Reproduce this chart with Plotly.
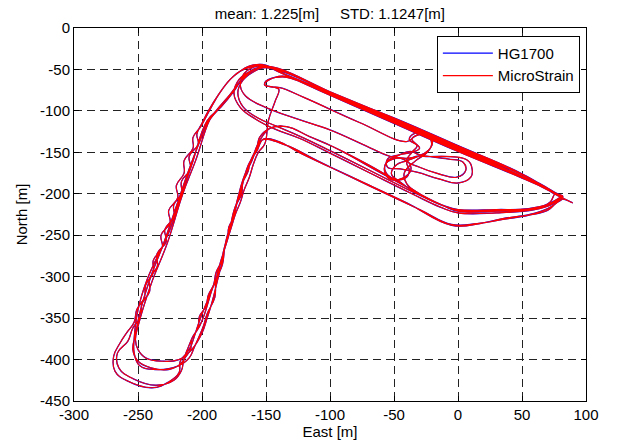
import plotly.graph_objects as go

# Trajectory waypoints, (East [m], North [m]), lap by lap
LAP1 = [(89.5, -210.8), (80, -204), (72, -197), (50, -179), (0, -147), (-50, -113), (-84, -90.5),
        (-120, -67), (-140, -53), (-152, -45), (-162, -47), (-170, -52), (-176, -59), (-186, -78),
        (-194, -99), (-201, -119), (-207, -132), (-207, -145), (-214, -160), (-214, -175), (-220, -190),
        (-219, -205), (-226, -220), (-225, -235), (-232, -250), (-231, -265), (-238, -280), (-238, -295),
        (-244, -310), (-245, -325), (-251, -340), (-253, -355), (-259, -368), (-264, -380), (-269, -396),
        (-268, -414), (-258, -426), (-239, -434), (-226, -427), (-218, -416), (-217, -402), (-213, -394),
        (-209, -385), (-206, -372), (-203, -358), (-200, -345), (-196, -330), (-193, -318), (-189, -303),
        (-187, -290), (-184, -275), (-182, -262), (-179, -248), (-177, -235), (-174, -220), (-172, -207),
        (-169, -193), (-167, -180), (-164, -166), (-160, -154), (-157, -142), (-153, -131), (-147, -121),
        (-134, -119), (-116, -131), (-98, -143), (-70, -165), (-35, -196), (-10, -215), (5, -221),
        (30, -221), (55, -220), (70, -215), (78, -208), (80, -203)]
LAP2 = [(73, -197), (50, -181), (0, -149), (-50, -115), (-100, -81), (-130, -60), (-145, -48),
        (-153, -44), (-163, -46), (-171, -53), (-178, -62), (-187, -80), (-195, -100), (-200, -115),
        (-204, -128), (-203, -140), (-210, -155), (-209, -170), (-216, -185), (-216, -200), (-222, -213),
        (-222, -228), (-229, -243), (-228, -258), (-235, -272), (-235, -288), (-241, -302), (-241, -318),
        (-247, -333), (-248, -348), (-254, -362), (-258, -378), (-266, -392), (-265, -410), (-254, -423),
        (-236, -431), (-222, -425), (-216, -413), (-214, -400), (-209, -388), (-208, -375), (-203, -362),
        (-202, -348), (-197, -336), (-195, -322), (-191, -310), (-189, -295), (-185, -282), (-183, -268),
        (-180, -255), (-179, -240), (-175, -228), (-173, -213), (-169, -200), (-168, -186), (-164, -173),
        (-162, -160), (-157, -148), (-152, -134), (-140, -137), (-123, -151), (-80, -182), (-40, -211),
        (-5, -238), (17, -236), (35, -230), (56, -225), (70, -218), (78, -210), (82, -205), (75, -199)]
LAP3 = [(50, -179), (0, -145), (-50, -112.5), (-100, -79.5), (-135, -56), (-148, -48), (-158, -49),
        (-166, -56), (-172, -68), (-180, -86), (-190, -103), (-194, -111), (-205, -160), (-215, -200),
        (-227, -259), (-240, -310), (-250, -360), (-252, -376), (-250, -388), (-244, -398), (-231, -402),
        (-218, -400), (-208, -388), (-200, -368), (-196, -350), (-192, -330), (-188, -305), (-184, -280),
        (-181, -255), (-176, -230), (-172, -205), (-168, -183), (-162, -160), (-157, -143), (-155, -132),
        (-147, -121), (-134, -119), (-116, -131), (-98, -143), (-60, -175), (-35, -196), (-12, -214),
        (0, -220), (30, -220), (55, -219), (70, -213), (78, -206), (82, -203), (76, -199)]
LAP4 = [(50, -176), (0, -143), (-50, -110), (-100, -78), (-135, -56), (-150, -47), (-160, -50),
        (-168, -60), (-175, -76), (-185, -95), (-196, -112), (-208, -165), (-218, -210), (-225, -243),
        (-243, -304), (-250, -340), (-253, -375), (-253, -392), (-249, -407), (-237, -412), (-219, -408),
        (-210, -398), (-206, -385), (-199, -360), (-196, -345), (-190, -325), (-189, -305), (-184, -285),
        (-182, -262), (-178, -240), (-175, -220), (-170, -200), (-167, -180), (-161, -160), (-157, -145),
        (-153, -135), (-135, -141), (-110, -160), (-70, -190), (-30, -219), (-5, -237), (15, -236),
        (35, -231), (55, -226), (70, -220), (76, -212), (80, -205), (76, -200)]
LAP5 = [(72, -210), (60, -218), (30, -221), (0, -221), (-12, -214), (-35, -198), (-70, -171),
        (-100, -148), (-123, -131), (-141, -119), (-157, -108), (-168, -95), (-172, -78), (-168, -63),
        (-160, -53), (-152, -48), (-140, -51), (-100, -77), (-50, -109), (0, -142.5), (50, -176),
        (72, -196), (80, -203)]
LAP6 = [(74, -212), (60, -219), (30, -223), (0, -223), (-14, -216), (-36, -200), (-70, -174),
        (-100, -151), (-124, -133), (-143, -122), (-158, -110), (-170, -96), (-175, -79), (-171, -62),
        (-162, -52), (-152, -46), (-140, -49), (-100, -77), (-50, -111), (0, -144), (50, -177),
        (73, -196), (79, -203)]
LAP7 = [(72, -197), (50, -180), (0, -148), (-50, -114), (-100, -81), (-128, -62), (-137, -59),
        (-147, -62), (-151, -68), (-146, -71), (-139, -72), (-120, -84), (-77, -114), (-40, -137),
        (-34, -131), (-28, -128), (-22, -133), (-21, -143), (-27, -152), (-38, -157), (-48, -157),
        (-56, -163), (-57, -172), (-50, -182), (-41, -181), (-38, -172), (-40, -162), (-33, -155),
        (-25, -155), (6.8, -159), (11, -170), (10, -180), (0, -187), (-15, -182), (-32, -174),
        (-45, -170), (-55, -168), (-55, -158), (-46, -153), (-36, -150), (-30, -145), (-36, -134),
        (-27, -128), (-20, -137), (-24, -150), (-33, -160), (-42, -175), (-40, -188), (-30, -200),
        (-12, -214), (0, -220), (30, -220), (60, -218), (72, -212), (80, -205)]
LAP8 = [(73, -198), (50, -176), (0, -142), (-50, -108.5), (-100, -78), (-128, -61), (-137, -58),
        (-144, -60), (-150, -64), (-151, -69), (-145, -71), (-140, -74), (-143, -89),
        (-148, -111), (-151, -140), (-156, -150), (-160, -165), (-163, -180), (-167, -195), (-170, -210),
        (-174, -225), (-177, -240), (-180, -255), (-183, -270), (-186, -285), (-188, -300), (-192, -315),
        (-195, -330), (-198, -345), (-202, -360), (-207, -372), (-212, -390), (-216, -404), (-226, -412),
        (-240, -410), (-250, -402), (-254, -388), (-252, -370), (-248, -340), (-240, -300), (-230, -260),
        (-220, -215), (-210, -170), (-200, -130), (-195, -112), (-188, -98), (-178, -80), (-170, -64),
        (-162, -53), (-153, -47), (-140, -50), (-100, -77), (-50, -110), (0, -144), (50, -177),
        (72, -195), (80, -203)]
LAP9 = [(72, -196), (50, -179), (0, -146), (-50, -112), (-100, -79), (-135, -56), (-150, -46),
        (-161, -48), (-168, -57), (-170, -70), (-166, -82), (-150, -96), (-125, -110), (-100, -123),
        (-75, -140), (-53, -155), (-45, -157), (-38, -163), (-37, -172), (-43, -181), (-52, -183),
        (-57, -175), (-56, -162), (-47, -154), (-37, -149), (-30, -153), (-8, -158), (4, -162),
        (6, -172), (-1, -180), (-15, -176), (-30, -168), (-40, -160), (-36, -150), (-32, -142),
        (-38, -135), (-35, -128), (-27, -127), (-21, -134), (-22, -146), (-30, -154), (-40, -160),
        (-48, -165), (-52, -176), (-45, -186), (-35, -197), (-14, -213), (0, -219), (30, -219),
        (55, -218), (70, -213), (80, -206), (89.5, -210.8)]
LAPS = [LAP1, LAP2, LAP3, LAP4, LAP5, LAP6, LAP7, LAP8, LAP9]

X_TICKS = [-300, -250, -200, -150, -100, -50, 0, 50, 100]
Y_TICKS = [0, -50, -100, -150, -200, -250, -300, -350, -400, -450]
TITLE = "mean: 1.225[m]\u00a0\u00a0\u00a0\u00a0\u00a0STD: 1.1247[m]"

east = [p[0] for lap in LAPS for p in lap]
north = [p[1] for lap in LAPS for p in lap]

FONT = "Liberation Sans, Arial, sans-serif"
fig = go.Figure()
fig.add_trace(go.Scatter(x=east, y=north, mode="lines", name="HG1700",
                         line=dict(color="#0000FF", width=1.3, shape="spline", smoothing=1.2)))
fig.add_trace(go.Scatter(x=east, y=north, mode="lines", name="MicroStrain",
                         line=dict(color="#FF0000", width=1.1, shape="spline", smoothing=1.2)))

axis_common = dict(showline=True, linecolor="black", linewidth=1, mirror="allticks",
                   ticks="inside", ticklen=5, tickcolor="black", showgrid=True,
                   gridcolor="#222222", gridwidth=1, griddash="8px,5px", zeroline=False,
                   tickfont=dict(family=FONT, size=15, color="black"))
fig.update_xaxes(range=[-300, 100], tickvals=X_TICKS, ticktext=[str(v) for v in X_TICKS],
                 title=dict(text="East [m]", font=dict(family=FONT, size=15, color="black"), standoff=4),
                 **axis_common)
fig.update_yaxes(range=[-450, 0], tickvals=Y_TICKS, ticktext=[str(v) for v in Y_TICKS],
                 title=dict(text="North [m]", font=dict(family=FONT, size=15, color="black"), standoff=8),
                 **axis_common)
fig.update_layout(
    width=619, height=441, margin=dict(l=74, r=33, t=28, b=40, autoexpand=False),
    paper_bgcolor="white", plot_bgcolor="white",
    title=dict(text=TITLE, x=0.533, xanchor="center", y=1 - 14 / 441, yanchor="middle", yref="container",
               font=dict(family=FONT, size=15, color="black")),
    legend=dict(x=0.988, xanchor="right", y=0.979, yanchor="top", bgcolor="white",
                bordercolor="black", borderwidth=1, itemwidth=50,
                font=dict(family=FONT, size=15, color="black"), tracegroupgap=0),
    showlegend=True,
)
fig.write_html("out.html")
